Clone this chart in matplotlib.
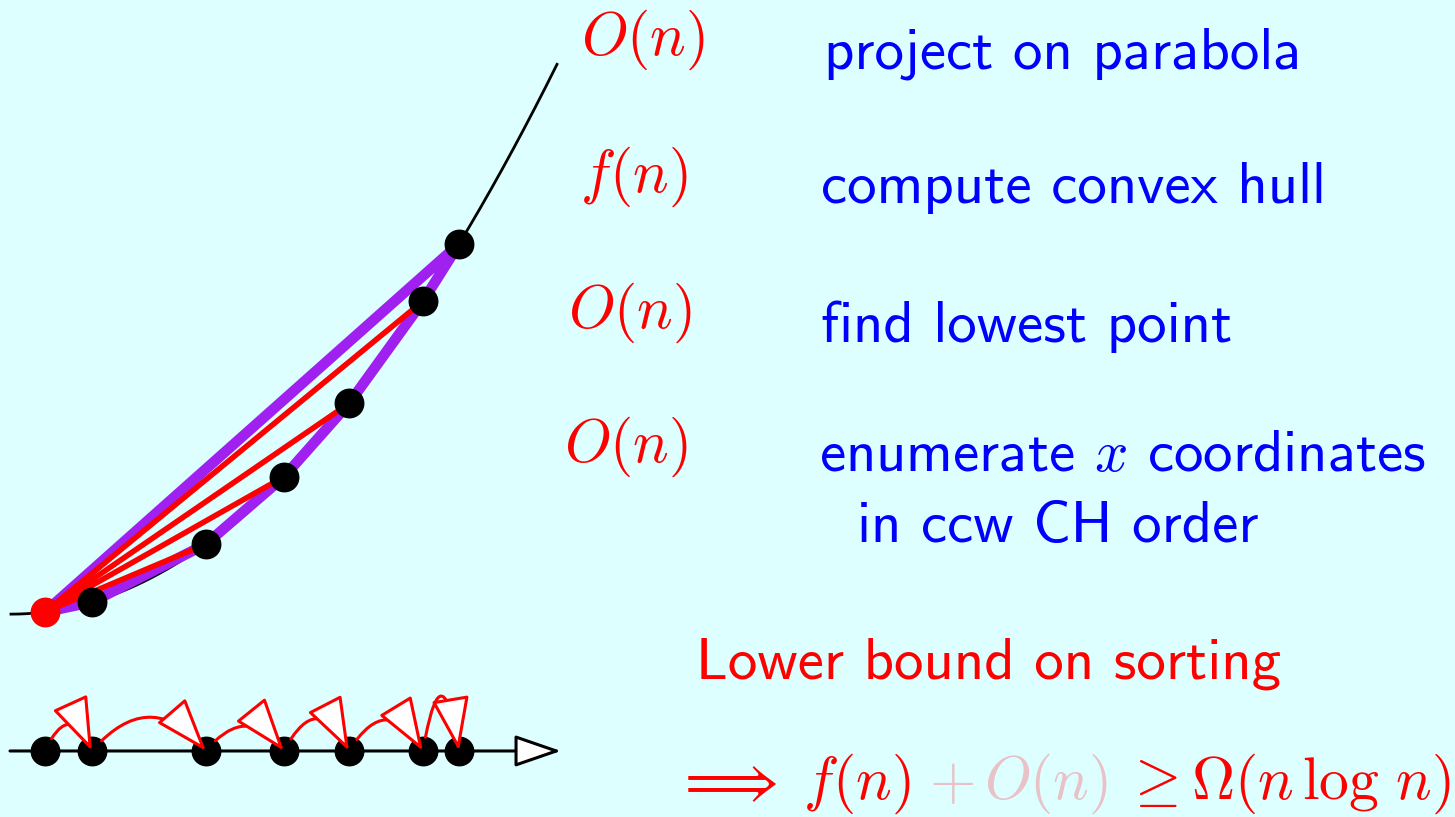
import numpy as np
import matplotlib.pyplot as plt
from matplotlib.patches import FancyArrowPatch

plt.rcParams['mathtext.fontset'] = 'cm'

# input numbers x_i, lifted to (x_i, x_i^2) on the parabola
xs = [0.34, 0.81, 1.95, 2.73, 3.38, 4.12, 4.48]
# bend of each "next in ccw order" arrow under the number line
arc_rad = [-1.1, -0.58, -0.62, -0.97, -0.82, -3.0]

costs = ['$O(n)$', '$f(n)$', '$O(n)$', '$O(n)$']
steps = ['project on parabola', 'compute convex hull', 'find lowest point',
         'enumerate $x$ coordinates']
step_cont = 'in ccw CH order'
conclusion = 'Lower bound on sorting'
bound_parts = [r'$\Longrightarrow\; f(n)$', r'$+\,O(n)$', r'$\geq \Omega(n\,\log\,n)$']

W, H = 1455, 817
BG = '#ddffff'
RED = '#ff0000'
BLUE = '#0000ff'
PURPLE = '#a020f0'


def fxy(x, y):
    # pixel position -> figure fraction
    return x / W, 1 - y / H


fig = plt.figure(figsize=(W / 100, H / 100), dpi=100, facecolor=BG)
ax = fig.add_axes([0, 0, 1, 1])
ax.set_facecolor(BG)
ax.set_xlim(-0.11, 14.44)
ax.set_ylim(-11.0, 33.3)
ax.axis('off')

# parabola
t = np.linspace(0, 5.46, 200)
ax.plot(t, t ** 2, color='black', lw=2.0, zorder=1)

px = np.array(xs)
py = px ** 2

# convex hull of lifted points
ax.plot(np.append(px, px[0]), np.append(py, py[0]), color=PURPLE, lw=7.6,
        solid_joinstyle='round', zorder=2)

# lines from the lowest point
for x, y in zip(px[2:-1], py[2:-1]):
    ax.plot([px[0], x], [py[0], y], color=RED, lw=4.0, zorder=3)

ax.plot(px[1:], py[1:], 'o', color='black', ms=20.5, zorder=4)
ax.plot(px[:1], py[:1], 'o', color=RED, ms=20.5, zorder=4)

# number line
line_y = -7.42
ax.add_patch(FancyArrowPatch((-0.01, line_y), (5.50, line_y),
                             arrowstyle='-|>,head_length=2.9,head_width=1.0',
                             mutation_scale=10, lw=2.2, edgecolor='black',
                             facecolor='white', shrinkA=0, shrinkB=0, zorder=1))
ax.plot(px, np.full(len(px), line_y), 'o', color='black', ms=20.5, zorder=2)

for i, rad in enumerate(arc_rad):
    ax.add_patch(FancyArrowPatch((px[i], line_y), (px[i + 1], line_y),
                                 connectionstyle=f'arc3,rad={rad}',
                                 arrowstyle='-|>,head_length=3.4,head_width=1.2',
                                 mutation_scale=10, lw=2.2, edgecolor=RED,
                                 facecolor='white', shrinkA=10, shrinkB=0,
                                 zorder=3))

# text column
cost_pos = [(581, 55), (580, 192), (568, 328), (564, 462)]
step_pos = [(824, 69), (821, 203), (821, 342), (819, 471)]
for s, (x, y) in zip(costs, cost_pos):
    fig.text(*fxy(x, y), s, color=RED, fontsize=43, va='baseline', ha='left')
for s, (x, y) in zip(steps, step_pos):
    fig.text(*fxy(x, y), s, color=BLUE, fontsize=42.4, family='cmss10',
             va='baseline', ha='left')
fig.text(*fxy(857, 542), step_cont, color=BLUE, fontsize=42.4, family='cmss10',
         va='baseline', ha='left')

fig.text(*fxy(696, 678), conclusion, color=RED, fontsize=42.4, family='cmss10',
         va='baseline', ha='left')

part_x = [674, 929, 1124]
part_c = [RED, '#e8c2c6', RED]
for s, x, c in zip(bound_parts, part_x, part_c):
    fig.text(*fxy(x, 799), s, color=c, fontsize=43, va='baseline', ha='left')

fig.savefig('out.png', dpi=100, facecolor=BG)
